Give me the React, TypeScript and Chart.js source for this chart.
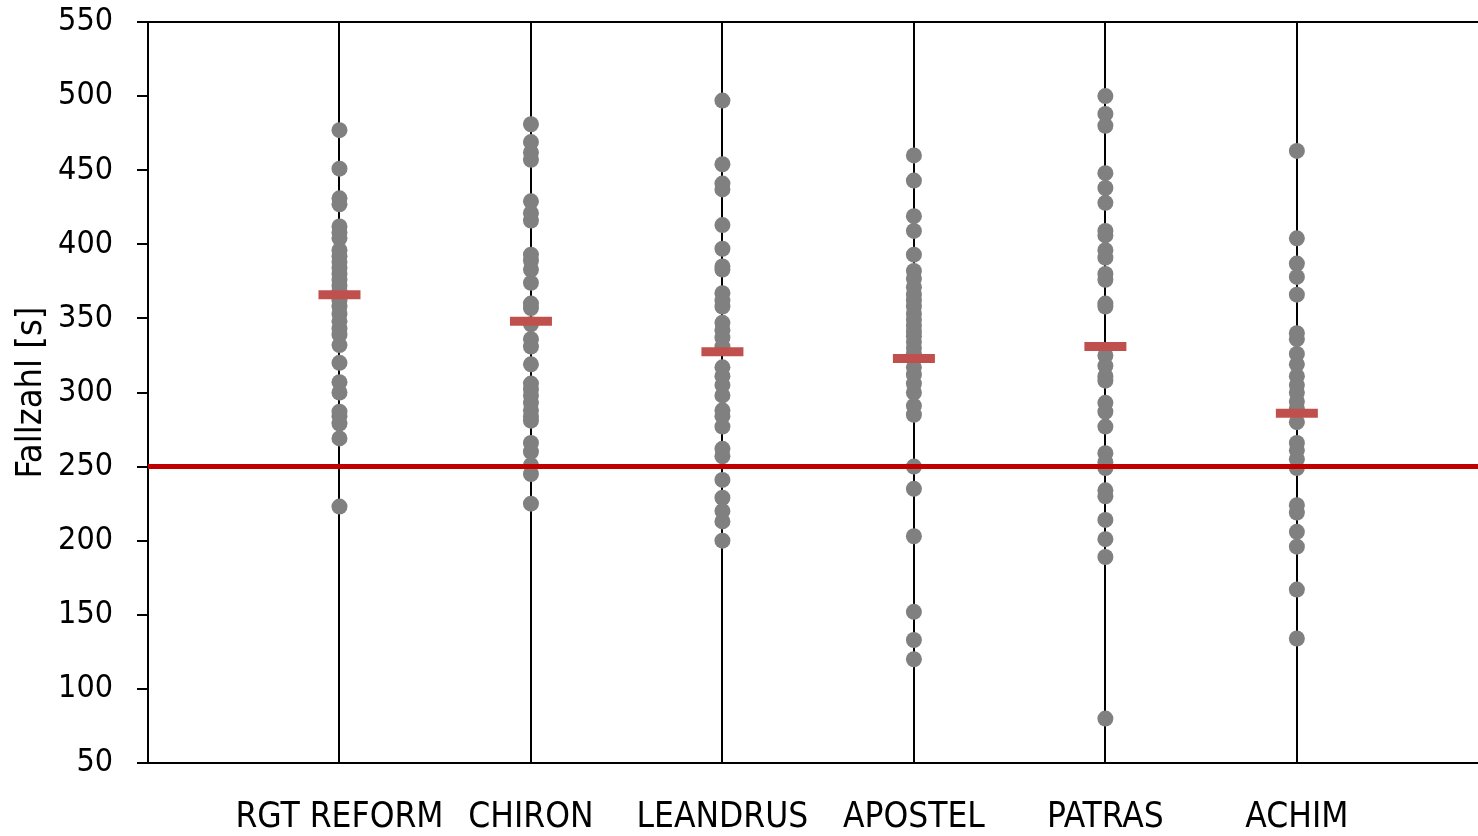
import React, { useEffect, useRef } from "react";
import { Chart, registerables } from "chart.js";

Chart.register(...registerables);

const categories = ["RGT REFORM", "CHIRON", "LEANDRUS", "APOSTEL", "PATRAS", "ACHIM"];

const rgtReform = [477, 451, 431, 427, 412, 408, 404, 396, 392, 388, 384, 380, 376, 372, 368, 362, 358, 353, 348, 343, 339, 332, 320, 307, 300, 287, 284, 279, 269, 223];
const chiron = [481, 469, 462, 457, 429, 421, 416, 393, 389, 383, 374, 360, 357, 346, 336, 331, 319, 306, 302, 298, 293, 288, 284, 281, 266, 260, 251, 245, 225];
const leandrus = [497, 454, 441, 437, 413, 397, 385, 383, 367, 362, 358, 347, 342, 337, 331, 317, 311, 305, 298, 288, 284, 277, 262, 257, 241, 229, 220, 213, 200];
const apostel = [460, 443, 419, 409, 393, 382, 377, 371, 366, 362, 358, 353, 349, 345, 341, 338, 334, 330, 326, 317, 312, 306, 300, 291, 285, 250, 235, 203, 152, 133, 120];
const patras = [500, 488, 480, 448, 438, 428, 409, 406, 396, 391, 380, 376, 360, 358, 325, 318, 311, 308, 293, 287, 277, 259, 253, 249, 234, 230, 214, 201, 189, 80];
const achim = [463, 404, 387, 378, 366, 340, 336, 326, 319, 311, 305, 300, 294, 289, 280, 266, 261, 255, 249, 224, 219, 206, 196, 167, 134];

const seriesValues = [rgtReform, chiron, leandrus, apostel, patras, achim];
const meanValues = [366, 348, 327.5, 323, 331, 286];
const thresholdValue = 250;

const yTicks = { min: 50, max: 550, step: 50 };
const xMax = 6.946;

const FONT = "'Liberation Sans Narrow', 'Arial Narrow', 'DejaVu Sans Condensed', 'Liberation Sans', sans-serif";

export default function App() {
  const canvasRef = useRef<HTMLCanvasElement | null>(null);

  useEffect(() => {
    document.body.style.margin = "0";
    const canvas = canvasRef.current;
    if (!canvas) return;

    const points: { x: number; y: number }[] = [];
    seriesValues.forEach((vals, i) => {
      vals.forEach((v) => points.push({ x: i + 1, y: v }));
    });
    const means = meanValues.map((v, i) => ({ x: i + 1, y: v }));

    const chart = new Chart(canvas, {
      type: "scatter",
      data: {
        datasets: [
          {
            label: "Fallzahl",
            data: points,
            backgroundColor: "#808080",
            borderColor: "#808080",
            borderWidth: 0,
            pointRadius: 8,
            pointHoverRadius: 8,
            order: 3,
          },
          {
            type: "line",
            label: "Grenze",
            data: [
              { x: 0, y: thresholdValue },
              { x: xMax, y: thresholdValue },
            ],
            borderColor: "#C00000",
            borderWidth: 5,
            pointRadius: 0,
            fill: false,
            order: 2,
          } as any,
          {
            label: "Mittel",
            data: means,
            pointStyle: "line",
            pointRadius: 21,
            pointHoverRadius: 21,
            borderColor: "#C0504D",
            backgroundColor: "#C0504D",
            borderWidth: 9,
            pointBorderWidth: 9,
            order: 1,
          } as any,
        ],
      },
      options: {
        responsive: false,
        animation: false,
        devicePixelRatio: 1,
        layout: { autoPadding: false, padding: { top: 22, left: 0, right: 0, bottom: 0 } },
        plugins: {
          legend: { display: false },
          tooltip: { enabled: false },
        },
        scales: {
          x: {
            type: "linear",
            min: 0,
            max: xMax,
            afterBuildTicks: (scale: any) => {
              scale.ticks = scale.ticks.filter((t: any) => Number.isInteger(t.value));
            },
            afterFit: (scale: any) => {
              scale.height = 73;
              scale.paddingLeft = 0;
              scale.paddingRight = 0;
            },
            ticks: {
              stepSize: 1,
              autoSkip: false,
              maxRotation: 0,
              padding: 34,
              color: "#000",
              font: { family: FONT, size: 35 },
              callback: (v: any) => {
                const n = Number(v);
                return n >= 1 && n <= categories.length && Number.isInteger(n) ? categories[n - 1] : "";
              },
            },
            grid: {
              color: "#000",
              lineWidth: 2,
              drawTicks: false,
            },
            border: { color: "#000", width: 2 },
          },
          y: {
            type: "linear",
            min: yTicks.min,
            max: yTicks.max,
            afterFit: (scale: any) => {
              scale.width = 148;
              scale.paddingTop = 0;
              scale.paddingBottom = 0;
            },
            ticks: {
              stepSize: yTicks.step,
              padding: 24,
              color: "#000",
              font: { family: FONT, size: 32 },
            },
            grid: {
              color: (ctx: any) => (ctx.tick && ctx.tick.value === yTicks.max ? "#000" : "rgba(0,0,0,0)"),
              tickColor: "#000",
              tickLength: 11,
              lineWidth: 2,
              drawTicks: true,
            },
            border: { color: "#000", width: 2 },
            title: {
              display: true,
              text: "Fallzahl [s]",
              color: "#000",
              font: { family: FONT, size: 36 },
              padding: { top: 10, bottom: 0 },
            },
          },
        },
      },
    });

    return () => chart.destroy();
  }, []);

  return (
    <div style={{ width: 1478, height: 836 }}>
      <canvas ref={canvasRef} width={1478} height={836} />
    </div>
  );
}
